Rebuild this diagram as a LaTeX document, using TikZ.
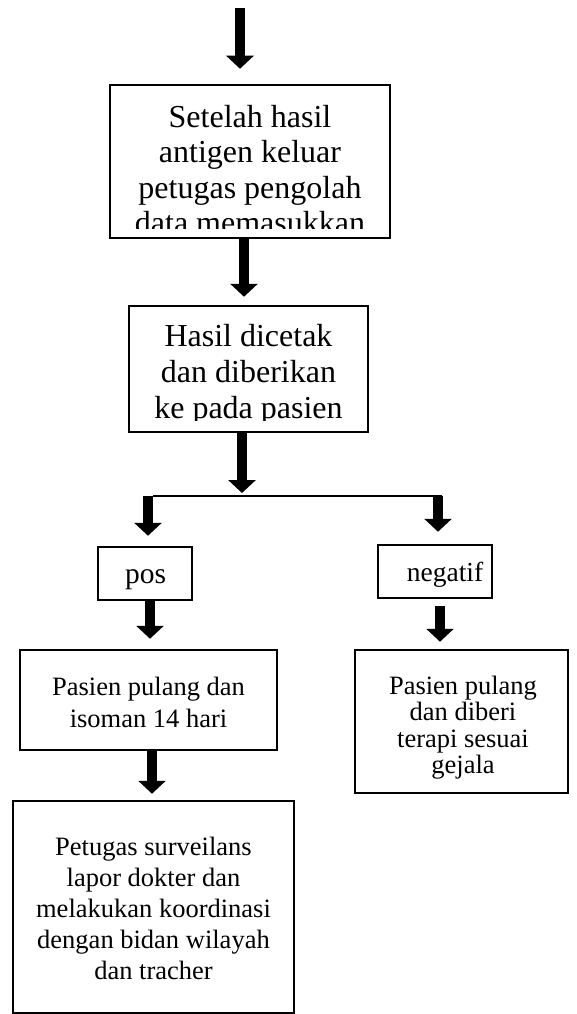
\documentclass[tikz,border=0pt]{standalone}
\usepackage{fontspec}
\setmainfont{Liberation Serif}
\usetikzlibrary{arrows.meta}
\tikzset{
  box/.style={draw=black, line width=2.5pt, rectangle, inner sep=0pt},
  txt/.style={align=center, inner sep=0pt, anchor=base},
  bigtxt/.style={txt, font=\fontsize{32}{35.5}\selectfont},
  smalltxt/.style={txt, font=\fontsize{26.5}{31}\selectfont},
  arr/.style={line width=10pt, -{Triangle[width=27pt,length=13pt]}},
  hline/.style={line width=1.5pt}
}
\begin{document}
\begin{tikzpicture}[x=1pt,y=-1pt]
\useasboundingbox (0,0) rectangle (577,1014);
% boxes
\node[box, minimum width=280pt, minimum height=153pt] (b1) at (250,161.5) {};
\node[box, minimum width=239pt, minimum height=126pt] (b2) at (248.5,369) {};
\node[box, minimum width=94pt, minimum height=53pt] (pos) at (145,573.5) {};
\node[box, minimum width=114pt, minimum height=53pt] (neg) at (435,571.5) {};
\node[box, minimum width=257pt, minimum height=100pt] (iso) at (148.5,700) {};
\node[box, minimum width=213pt, minimum height=143pt] (rbox) at (461.5,721.5) {};
\node[box, minimum width=281pt, minimum height=212pt] (bot) at (153.5,907) {};
% texts (anchor = baseline of last line)
\begin{scope}
\clip (112,87) rectangle (388,228);
\node[bigtxt] (t1) at (250,233.5) {Setelah hasil\\antigen keluar\\petugas pengolah\\data memasukkan};
\end{scope}
\begin{scope}
\clip (131,308) rectangle (366,420);
\node[bigtxt, font=\fontsize{32}{36}\selectfont] (t2) at (248.5,418) {Hasil dicetak\\dan diberikan\\ke pada pasien};
\end{scope}
\node[txt, font=\fontsize{29.5}{32}\selectfont] (tpos) at (145.5,583) {pos};
\node[txt, font=\fontsize{27.5}{30}\selectfont] (tneg) at (445,581) {negatif};
\node[smalltxt, font=\fontsize{26.5}{32}\selectfont] (tiso) at (148.5,727) {Pasien pulang dan\\isoman 14 hari};
\node[smalltxt, font=\fontsize{26.5}{26.5}\selectfont] (trbox) at (463,773.5) {Pasien pulang\\dan diberi\\terapi sesuai\\gejala};
\node[smalltxt] (tbot) at (153.5,979) {Petugas surveilans\\lapor dokter dan\\melakukan koordinasi\\dengan bidan wilayah\\dan tracher};
% connectors
\coordinate (top) at (240,8);
\coordinate (split) at (242,496);
\coordinate (hl) at (153,496);
\coordinate (hr) at (442,496);
\coordinate (sl) at (148,496);
\coordinate (sr) at (438,496);
\draw[arr] (top) -- ([xshift=-10pt,yshift=15pt]b1.north);
\draw[arr] ([xshift=-6pt]b1.south) -- ([xshift=-4.5pt,yshift=8pt]b2.north);
\draw[arr] ([xshift=-6.5pt]b2.south) -- ([yshift=3pt]split);
\draw[hline] (hl) -- (hr);
\draw[arr] (sl) -- ([xshift=3pt,yshift=10pt]pos.north);
\draw[arr] (sr) -- ([xshift=3pt,yshift=12pt]neg.north);
\draw[arr] ([xshift=5pt]pos.south) -- ([xshift=1.5pt,yshift=10pt]iso.north);
\draw[arr] ([xshift=5pt,yshift=-7pt]neg.south) -- ([xshift=-21.5pt,yshift=7pt]rbox.north);
\draw[arr] ([xshift=3.5pt]iso.south) -- ([xshift=-1.5pt,yshift=6pt]bot.north);
\end{tikzpicture}
\end{document}
